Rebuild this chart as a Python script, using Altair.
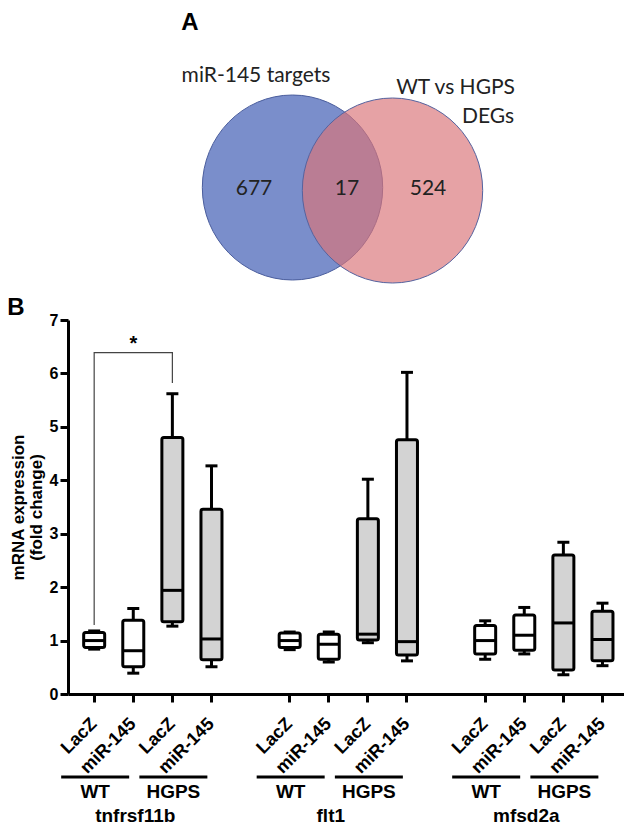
import altair as alt
import pandas as pd

FONT = "Liberation Sans"
VENN_FONT = "Lato"

# ---------------- data ----------------
venn_sets = ["miR-145 targets", "WT vs HGPS", "DEGs"]
venn_counts = ["677", "17", "524"]

genes = ["tnfrsf11b", "flt1", "mfsd2a"]
genotypes = ["WT", "WT", "HGPS", "HGPS"]
treatments = ["LacZ", "miR-145", "LacZ", "miR-145"]

# order inside each gene: WT LacZ, WT miR-145, HGPS LacZ, HGPS miR-145
whisker_low = {
    "tnfrsf11b": [0.84, 0.39, 1.27, 0.51],
    "flt1": [0.83, 0.60, 0.96, 0.62],
    "mfsd2a": [0.65, 0.75, 0.36, 0.53],
}
box_q1 = {
    "tnfrsf11b": [0.87, 0.51, 1.35, 0.64],
    "flt1": [0.87, 0.65, 1.01, 0.73],
    "mfsd2a": [0.75, 0.82, 0.45, 0.62],
}
box_median = {
    "tnfrsf11b": [1.00, 0.81, 1.94, 1.03],
    "flt1": [1.00, 0.93, 1.12, 0.98],
    "mfsd2a": [1.00, 1.10, 1.33, 1.02],
}
box_q3 = {
    "tnfrsf11b": [1.15, 1.38, 4.80, 3.46],
    "flt1": [1.14, 1.12, 3.28, 4.76],
    "mfsd2a": [1.28, 1.48, 2.60, 1.55],
}
whisker_high = {
    "tnfrsf11b": [1.18, 1.60, 5.62, 4.27],
    "flt1": [1.16, 1.16, 4.02, 6.02],
    "mfsd2a": [1.37, 1.62, 2.84, 1.70],
}

# significance bracket (WT LacZ vs HGPS LacZ, tnfrsf11b)
bracket_values = [1.29, 6.39, 6.39, 5.82]
star_value = 6.43
y_ticks = [0, 1, 2, 3, 4, 5, 6, 7]

# ---------------- tables ----------------
rows = []
x_domain = []
for gi, g in enumerate(genes):
    for i in range(4):
        key = f"{g}|{genotypes[i]}|{treatments[i]}"
        x_domain.append(key)
        rows.append(dict(key=key, gene=g, geno=genotypes[i], treat=treatments[i],
                         lo=whisker_low[g][i], q1=box_q1[g][i], med=box_median[g][i],
                         q3=box_q3[g][i], hi=whisker_high[g][i]))
    if gi < len(genes) - 1:
        x_domain.append(f"gap{gi}")
box_df = pd.DataFrame(rows)
real_keys = list(box_df["key"])

grp_df = box_df[box_df["treat"] == "LacZ"][["key", "geno"]]
gene_df = box_df[(box_df["geno"] == "WT") & (box_df["treat"] == "miR-145")][["key", "gene"]]

k_wt = f"{genes[0]}|WT|LacZ"
k_hg = f"{genes[0]}|HGPS|LacZ"
bracket_df = pd.DataFrame({"key": [k_wt, k_wt, k_hg, k_hg], "v": bracket_values, "o": [0, 1, 2, 3]})
star_df = pd.DataFrame({"key": [f"{genes[0]}|WT|miR-145"], "v": [star_value], "t": ["*"]})

# ---------------- layout ----------------
W, H = 556, 374

xscale = alt.Scale(domain=x_domain, paddingInner=0, paddingOuter=0.11, align=0.77)
xaxis = alt.Axis(values=real_keys, labelExpr="split(datum.label, '|')[2]", title=None,
                 labelAngle=-45, labelAlign="right", labelBaseline="middle", labelPadding=19,
                 labelFontSize=18, labelFontWeight="bold", labelFont=FONT, labelColor="black",
                 tickSize=8, tickWidth=3, tickColor="black", domainWidth=3, domainColor="black",
                 grid=False)
yscale = alt.Scale(domain=[0, 7], nice=False, zero=True)
yaxis = alt.Axis(values=y_ticks, title=["mRNA expression", "(fold change)"], titleAngle=-90,
                 titleX=-45, titleY=H / 2, titleAlign="center", titleBaseline="alphabetic",
                 titleFont=FONT, titleFontSize=17, titleFontWeight="bold", titleLineHeight=18,
                 titleColor="black", labelFont=FONT, labelFontSize=16, labelFontWeight="bold",
                 labelColor="black", labelPadding=2, tickSize=8, tickWidth=3, tickColor="black",
                 domainWidth=3, domainColor="black", grid=False)


def X(field="key"):
    return alt.X(f"{field}:N", scale=xscale, axis=xaxis)


def Y(field):
    return alt.Y(f"{field}:Q", scale=yscale, axis=yaxis)


base = alt.Chart(box_df)

whisk_lo = base.mark_rule(color="black", strokeWidth=3).encode(x=X(), y=Y("lo"), y2="q1")
whisk_hi = base.mark_rule(color="black", strokeWidth=3).encode(x=X(), y=Y("q3"), y2="hi")
boxes = base.mark_bar(size=21, stroke="black", strokeWidth=3, cornerRadius=2).encode(
    x=X(), y=Y("q1"), y2="q3",
    fill=alt.Fill("geno:N", scale=alt.Scale(domain=["WT", "HGPS"], range=["#ffffff", "#d3d3d3"]),
                  legend=None))
medians = base.mark_tick(orient="horizontal", size=21, thickness=3, color="black", opacity=1).encode(
    x=X(), y=Y("med"))
caps_lo = base.mark_tick(orient="horizontal", size=12, thickness=3, color="black", opacity=1).encode(
    x=X(), y=Y("lo"))
caps_hi = base.mark_tick(orient="horizontal", size=12, thickness=3, color="black", opacity=1).encode(
    x=X(), y=Y("hi"))

bracket = alt.Chart(bracket_df).mark_line(color="#444444", strokeWidth=1.2).encode(
    x=X(), y=Y("v"), order="o:Q")
star = alt.Chart(star_df).mark_text(font=FONT, fontSize=20, fontWeight="bold", color="black",
                                    baseline="alphabetic").encode(x=X(), y=Y("v"), text="t:N")

grp_lines = alt.Chart(grp_df).mark_rule(color="black", strokeWidth=3, xOffset=-33, x2Offset=35).encode(
    x=X(), x2="key", y=alt.value(457))
grp_text = alt.Chart(grp_df).mark_text(font=FONT, fontSize=19, fontWeight="bold", color="black",
                                       baseline="alphabetic", dx=1).encode(
    x=X(), y=alt.value(478), text="geno:N")
gene_text = alt.Chart(gene_df).mark_text(font=FONT, fontSize=19, fontWeight="bold", color="black",
                                         baseline="alphabetic", dx=2).encode(
    x=X(), y=alt.value(502), text="gene:N")

# ---------------- venn (panel A) ----------------
k = 0.5523
rx = 0.975
ell = (f"M {-rx} 0 C {-rx} {-k} {-rx*k} -1 0 -1 C {rx*k} -1 {rx} {-k} {rx} 0 "
       f"C {rx} {k} {rx*k} 1 0 1 C {-rx*k} 1 {-rx} {k} {-rx} 0 Z")
one = pd.DataFrame({"n": [0]})
blue = alt.Chart(one).mark_point(shape=ell, size=185 * 185, filled=True, fill="#7a8ecb",
                                 fillOpacity=1, stroke="#4b5e9d", strokeWidth=1, opacity=1).encode(
    x=alt.value(224.5), y=alt.value(-132.5))
pink = alt.Chart(one).mark_point(shape=ell, size=185 * 185, filled=True, fill="#da7479",
                                 fillOpacity=0.67, stroke="#55639f", strokeWidth=1, strokeOpacity=1,
                                 opacity=1).encode(
    x=alt.value(324.5), y=alt.value(-129.5))


def txt(text, x, y, size, weight="normal", align="center", font=VENN_FONT, color="#222222"):
    return alt.Chart(pd.DataFrame({"t": [text]})).mark_text(
        align=align, baseline="alphabetic", fontSize=size, fontWeight=weight, font=font,
        color=color).encode(x=alt.value(x), y=alt.value(y), text="t:N")


venn_labels = [
    txt(venn_sets[0], 188, -238, 21),
    txt(venn_sets[1], 447, -226, 21, align="right"),
    txt(venn_sets[2], 446, -197, 21, align="right"),
    txt(venn_counts[0], 186, -125, 21),
    txt(venn_counts[1], 279, -125, 21),
    txt(venn_counts[2], 360, -125, 21),
    txt("A", 122, -290, 24, weight="bold", font=FONT, color="black"),
    txt("B", -52, -5, 24, weight="bold", font=FONT, color="black"),
]

chart = alt.layer(
    blue, pink, *venn_labels,
    whisk_lo, whisk_hi, boxes, medians, caps_lo, caps_hi,
    bracket, star, grp_lines, grp_text, gene_text,
).properties(
    width=W, height=H,
    autosize=alt.AutoSizeParams(type="none"),
    padding={"left": 60, "top": 312, "right": 0, "bottom": 138},
    background="white",
).configure_view(stroke=None)

chart.save("out.html", embed_options={"renderer": "svg", "actions": False})
